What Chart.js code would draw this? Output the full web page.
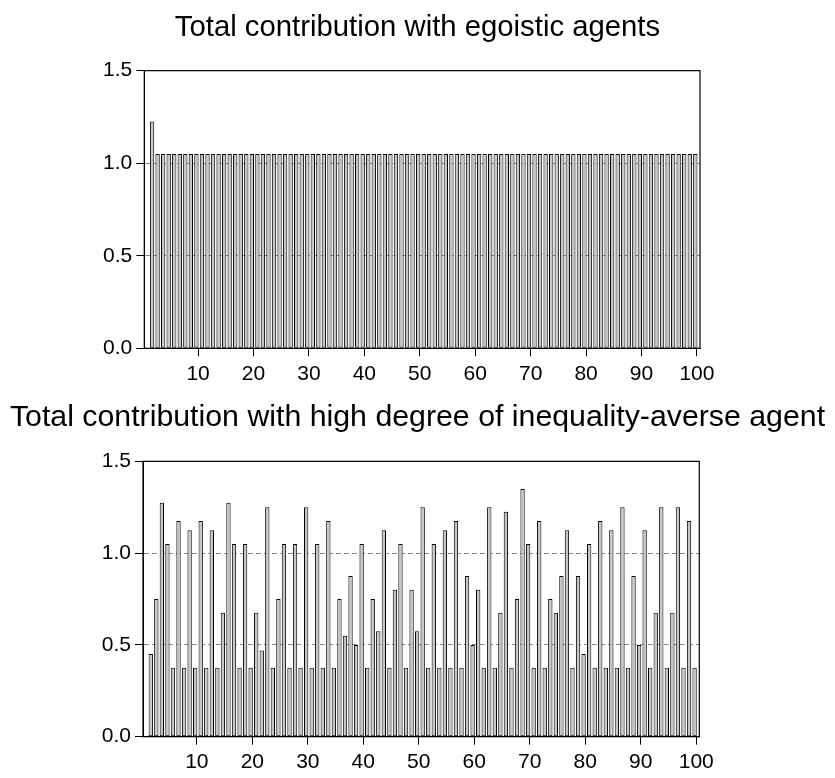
<!DOCTYPE html>
<html><head><meta charset="utf-8">
<script src="https://cdn.jsdelivr.net/npm/chart.js@4.4.0/dist/chart.umd.min.js"></script>
<style>
html,body{margin:0;padding:0;background:#fff;}
#wrap{position:relative;width:835px;height:778px;overflow:hidden;}
.box{position:absolute;left:0;width:835px;}
canvas{display:block;}
</style></head><body>
<div id="wrap">
<div class="box" style="top:0;height:395px"><canvas id="c1" width="835" height="395"></canvas></div>
<div class="box" style="top:395px;height:383px"><canvas id="c2" width="835" height="383"></canvas></div>
</div>
<script>
// ---- data ----
const periods = [1,2,3,4,5,6,7,8,9,10,11,12,13,14,15,16,17,18,19,20,21,22,23,24,25,26,27,28,29,30,31,32,33,34,35,36,37,38,39,40,41,42,43,44,45,46,47,48,49,50,51,52,53,54,55,56,57,58,59,60,61,62,63,64,65,66,67,68,69,70,71,72,73,74,75,76,77,78,79,80,81,82,83,84,85,86,87,88,89,90,91,92,93,94,95,96,97,98,99];

const egoisticValues = [1.225,1.05,1.05,1.05,1.05,1.05,1.05,1.05,1.05,1.05,
1.05,1.05,1.05,1.05,1.05,1.05,1.05,1.05,1.05,1.05,
1.05,1.05,1.05,1.05,1.05,1.05,1.05,1.05,1.05,1.05,
1.05,1.05,1.05,1.05,1.05,1.05,1.05,1.05,1.05,1.05,
1.05,1.05,1.05,1.05,1.05,1.05,1.05,1.05,1.05,1.05,
1.05,1.05,1.05,1.05,1.05,1.05,1.05,1.05,1.05,1.05,
1.05,1.05,1.05,1.05,1.05,1.05,1.05,1.05,1.05,1.05,
1.05,1.05,1.05,1.05,1.05,1.05,1.05,1.05,1.05,1.05,
1.05,1.05,1.05,1.05,1.05,1.05,1.05,1.05,1.05,1.05,
1.05,1.05,1.05,1.05,1.05,1.05,1.05,1.05,1.05];

const averseValues = [0.45,0.75,1.275,1.05,0.375,1.175,0.375,1.125,0.375,1.175,
0.375,1.125,0.375,0.675,1.275,1.05,0.375,1.05,0.375,0.675,
0.47,1.25,0.375,0.75,1.05,0.375,1.05,0.375,1.25,0.375,
1.05,0.375,1.175,0.375,0.75,0.55,0.875,0.5,1.05,0.375,
0.75,0.575,1.125,0.375,0.8,1.05,0.375,0.8,0.575,1.25,
0.375,1.05,0.375,1.125,0.375,1.175,0.375,0.875,0.5,0.8,
0.375,1.25,0.375,0.675,1.225,0.375,0.75,1.35,1.05,0.375,
1.175,0.375,0.75,0.675,0.875,1.125,0.375,0.875,0.45,1.05,
0.375,1.175,0.375,1.125,0.375,1.25,0.375,0.875,0.5,1.125,
0.375,0.675,1.25,0.375,0.675,1.25,0.375,1.175,0.375];

const xTickValues = [10,20,30,40,50,60,70,80,90,100];
const xTickLabels = ['10','20','30','40','50','60','70','80','90','100'];
const yTickValues = [0,0.5,1.0,1.5];
const yTickLabels = ['0.0','0.5','1.0','1.5'];
const gridValues = [0.5,1.0];
const title1 = 'Total contribution with egoistic agents';
const title2 = 'Total contribution with high degree of inequality-averse agent';

// ---- styling / layout ----
const FONT = "'Liberation Sans', Arial, sans-serif";
const TICK_SHIFT = 0.7;

const framePlugin = {
  id: 'frame',
  afterDraw(chart) {
    const a = chart.chartArea, c = chart.ctx;
    c.save();
    c.strokeStyle = '#000';
    c.lineWidth = 1.2;
    c.strokeRect(a.left, a.top, a.right - a.left, a.bottom - a.top);
    c.restore();
  }
};

function makeChart(id, values, o) {
  return new Chart(document.getElementById(id), {
    type: 'bar',
    data: {
      datasets: [{
        data: values.map((v, i) => ({x: periods[i], y: v})),
        backgroundColor: '#c6c6c6',
        borderColor: '#000',
        borderWidth: 1,
        borderSkipped: false,
        barPercentage: 0.78,
        categoryPercentage: 1
      }]
    },
    options: {
      responsive: false,
      animation: false,
      events: [],
      layout: {padding: {left: 0, right: 0, top: 0, bottom: 0}},
      plugins: {
        legend: {display: false},
        tooltip: {enabled: false},
        title: {
          display: true,
          text: o.title,
          color: '#000',
          font: {family: FONT, size: o.titleSize, weight: 'normal', lineHeight: 1.2},
          padding: {top: o.titleTop, bottom: o.titleBottom}
        }
      },
      scales: {
        x: {
          type: 'linear',
          bounds: 'data',
          offset: false,
          min: -0.4,
          max: 99.85,
          afterBuildTicks: s => { s.ticks = xTickValues.map(v => ({value: v - TICK_SHIFT})); },
          afterFit: s => { s.height = o.xHeight; },
          ticks: {
            autoSkip: false, maxRotation: 0, padding: 5, color: '#000',
            font: {family: FONT, size: 21},
            callback: (v, i) => xTickLabels[i]
          },
          grid: {offset: false, drawOnChartArea: false, tickLength: 8, tickColor: '#000', tickWidth: 1},
          border: {display: true, color: '#000', width: 1}
        },
        y: {
          type: 'linear',
          min: 0,
          max: 1.5,
          z: 1,
          afterBuildTicks: s => { s.ticks = yTickValues.map(v => ({value: v})); },
          afterFit: s => { s.width = o.left; },
          ticks: {
            padding: 4, color: '#000',
            font: {family: FONT, size: 21},
            callback: (v, i) => yTickLabels[i]
          },
          grid: {
            color: ctx => (ctx.tick && gridValues.includes(ctx.tick.value)) ? '#8c8c8c' : 'rgba(0,0,0,0)',
            tickBorderDash: [],
            tickColor: '#000',
            tickLength: 8,
            lineWidth: 1
          },
          border: {display: true, color: '#000', width: 1, dash: [5, 3]}
        },
        yRight: {
          type: 'linear',
          position: 'right',
          display: true,
          grid: {display: false},
          ticks: {display: false},
          border: {display: false},
          afterFit: s => { s.width = o.right; }
        }
      }
    },
    plugins: [framePlugin]
  });
}

makeChart('c1', egoisticValues, {
  title: title1, titleSize: 29.3, titleTop: 10.3, titleBottom: 25.2,
  xHeight: 46.7, left: 144.3, right: 135
});
makeChart('c2', averseValues, {
  title: title2, titleSize: 30.3, titleTop: 4.2, titleBottom: 25.8,
  xHeight: 41.3, left: 143, right: 135.7
});
</script>
</body></html>
